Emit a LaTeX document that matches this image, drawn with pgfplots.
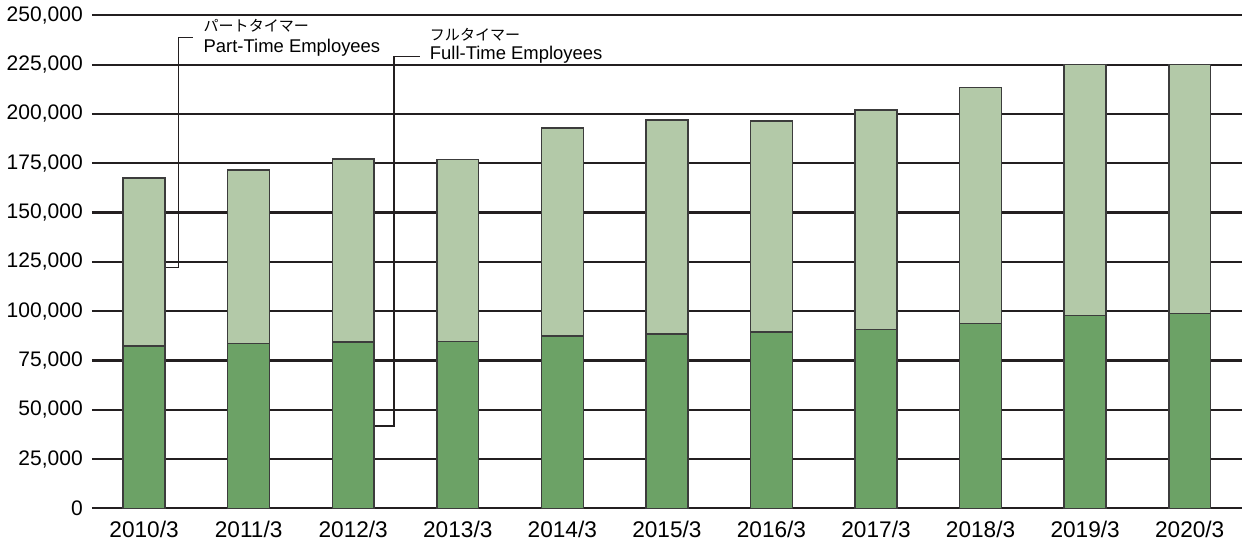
\documentclass[border=0pt]{standalone}
\usepackage{fontspec}
\setmainfont{Liberation Sans}
\newfontfamily\jp{Noto Sans CJK JP}
\usepackage{pgfplots}
\pgfplotsset{compat=1.18}

\definecolor{fulltime}{HTML}{6CA266}
\definecolor{parttime}{HTML}{B3C9A8}
\definecolor{gridblack}{HTML}{231F20}
\definecolor{edgegray}{HTML}{3C3C3C}

\begin{document}
\begin{tikzpicture}
  \begin{axis}[
    scale only axis,
    width=574pt, height=246pt,
    ybar stacked,
    bar width=0.4,
    xmin=-0.5, xmax=10.5,
    ymin=0, ymax=250000,
    ytick={0,25000,50000,75000,100000,125000,150000,175000,200000,225000,250000},
    yticklabels={0,{25,000},{50,000},{75,000},{100,000},{125,000},{150,000},{175,000},{200,000},{225,000},{250,000}},
    xtick=data,
    xticklabels={2010/3,2011/3,2012/3,2013/3,2014/3,2015/3,2016/3,2017/3,2018/3,2019/3,2020/3},
    scaled y ticks=false,
    axis line style={draw=none},
    tick style={draw=none},
    ymajorgrids,
    major grid style={gridblack, line width=1.1pt},
    yticklabel style={font=\fontsize{10.5}{12}\selectfont, xshift=-1pt},
    xticklabel style={font=\fontsize{11.3}{13}\selectfont, yshift=-3pt},
    clip=false,
  ]
  % full-time employees
  \addplot[draw=edgegray, line width=0.75pt, fill=fulltime] coordinates {
    (0,82400) (1,83500) (2,84300) (3,84500) (4,87300) (5,88500)
    (6,89300) (7,90800) (8,93600) (9,97800) (10,98800)
  };
  % part-time employees
  \addplot[draw=edgegray, line width=0.75pt, fill=parttime] coordinates {
    (0,85200) (1,88100) (2,92900) (3,92500) (4,105600) (5,108500)
    (6,107200) (7,111200) (8,119700) (9,127200) (10,126200)
  };

  % callouts
  \draw[gridblack, line width=0.6pt]
    (axis cs:0.2,122000) -- (axis cs:0.326,122000) -- (axis cs:0.326,238800) -- (axis cs:0.47,238800);
  \draw[gridblack, line width=0.6pt]
    (axis cs:2.2,41700) -- (axis cs:2.39,41700) -- (axis cs:2.39,229200) -- (axis cs:2.64,229200);
  \node[anchor=base west, inner sep=0pt, font=\jp\fontsize{7.5}{9}\selectfont]
    at (axis cs:0.566,241900) {パートタイマー};
  \node[anchor=base west, inner sep=0pt, font=\fontsize{9.2}{11}\selectfont]
    at (axis cs:0.566,231000) {Part-Time Employees};
  \node[anchor=base west, inner sep=0pt, font=\jp\fontsize{7.5}{9}\selectfont]
    at (axis cs:2.73,237300) {フルタイマー};
  \node[anchor=base west, inner sep=0pt, font=\fontsize{9.2}{11}\selectfont]
    at (axis cs:2.73,227800) {Full-Time Employees};
  \end{axis}
  % right margin
  \path ([xshift=6pt]current axis.east);
\end{tikzpicture}
\end{document}
